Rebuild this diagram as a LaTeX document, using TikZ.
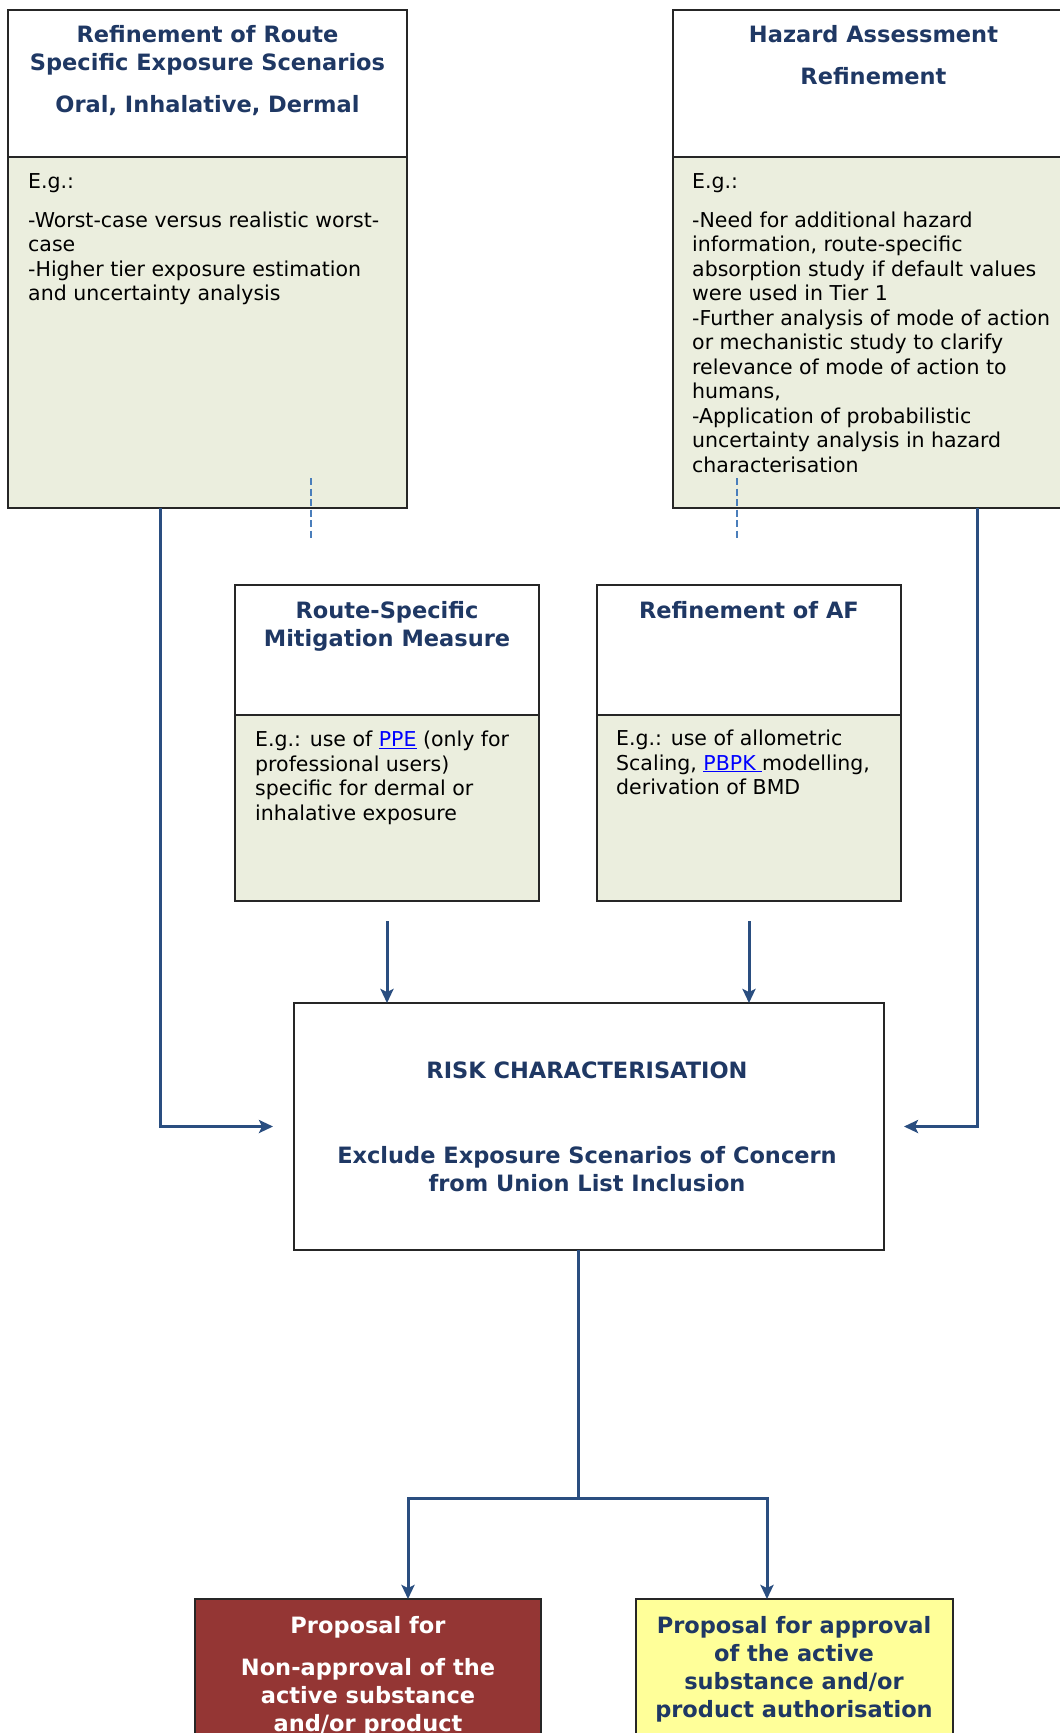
\documentclass[tikz,border=0pt]{standalone}
\usepackage{fontspec}
\setmainfont{DejaVu Sans}
\usetikzlibrary{arrows.meta,calc}
\definecolor{navy}{HTML}{1F3864}
\definecolor{arrowblue}{HTML}{2A4E80}
\definecolor{dashblue}{HTML}{4A7EBB}
\definecolor{bodygreen}{HTML}{EBEEDE}
\definecolor{redbox}{HTML}{943634}
\definecolor{yellowbox}{HTML}{FFFF99}
\definecolor{linkblue}{HTML}{0000FF}
\begin{document}
\begin{tikzpicture}[x=1pt,y=-1pt,
  box/.style={draw=black!85,line width=1.6pt,anchor=north west,inner sep=0pt,outer sep=0pt},
  hd/.style={font=\bfseries\fontsize{22.5}{28}\selectfont,text=navy,align=center,inner sep=0pt,anchor=north},
  bd/.style={font=\fontsize{20.5}{24.5}\selectfont,align=left,inner sep=0pt,anchor=north west},
  conn/.style={draw=arrowblue,line width=3pt,line join=miter},
  arr/.style={conn,-{Stealth[length=14pt,width=13pt,inset=3pt]}},
  dashline/.style={draw=dashblue,line width=2.5pt,dash pattern=on 7pt off 3.5pt}]
\useasboundingbox (0,0) rectangle (1060,1733);
\clip (0,0) rectangle (1060,1733);
\fill[white] (0,0) rectangle (1060,1733);

% top boxes
\node[box,fill=white,minimum width=399,minimum height=147] (b1h) at (8,10) {};
\node[box,fill=bodygreen,minimum width=399,minimum height=351] (b1b) at (8,157) {};
\node[box,fill=white,minimum width=401,minimum height=147] (b2h) at (673,10) {};
\node[box,fill=bodygreen,minimum width=401,minimum height=351] (b2b) at (673,157) {};

% middle boxes
\node[box,fill=white,minimum width=304,minimum height=130] (b3h) at (235,585) {};
\node[box,fill=bodygreen,minimum width=304,minimum height=186] (b3b) at (235,715) {};
\node[box,fill=white,minimum width=304,minimum height=130] (b4h) at (597,585) {};
\node[box,fill=bodygreen,minimum width=304,minimum height=186] (b4b) at (597,715) {};

% risk characterisation
\node[box,fill=white,minimum width=590,minimum height=247] (rc) at (294,1003) {};

% outcome boxes
\node[box,fill=redbox,minimum width=346,minimum height=180] (red) at (195,1599) {};
\node[box,fill=yellowbox,minimum width=317,minimum height=180] (yel) at (636,1599) {};

% texts
\node[hd] (t1h) at (207.5,25.5) {Refinement of Route\\Specific Exposure Scenarios\\[14pt]Oral, Inhalative, Dermal};
\node[bd] (t1b) at (28,173) {E.g.:\\[14.5pt]-Worst-case versus realistic worst-\\case\\-Higher tier exposure estimation\\and uncertainty analysis};
\node[hd] (t2h) at (873.5,25.5) {Hazard Assessment\\[14pt]Refinement};
\node[bd] (t2b) at (692,173) {E.g.:\\[14.5pt]-Need for additional hazard\\information, route-specific\\absorption study if default values\\were used in Tier 1\\-Further analysis of mode of action\\or mechanistic study to clarify\\relevance of mode of action to\\humans,\\-Application of probabilistic\\uncertainty analysis in hazard\\characterisation};
\node[hd] (t3h) at (387,601.5) {Route-Specific\\Mitigation Measure};
\node[bd] (t3b) at (255,731) {E.g.: use of \textcolor{linkblue}{\underline{PPE}} (only for\\professional users)\\specific for dermal or\\inhalative exposure};
\node[hd] (t4h) at (749,601.5) {Refinement of AF};
\node[bd] (t4b) at (616,730) {E.g.: use of allometric\\Scaling, \textcolor{linkblue}{\underline{PBPK\ }}modelling,\\derivation of BMD};
\node[hd] (trc) at (587,1061.5) {RISK CHARACTERISATION\\[57pt]Exclude Exposure Scenarios of Concern\\from Union List Inclusion};
\node[hd,text=white] (tred) at (368,1616.5) {Proposal for\\[14pt]Non-approval of the\\active substance\\and/or product};
\node[hd] (tyel) at (794,1616.5) {Proposal for approval\\of the active\\substance and/or\\product authorisation};

% dashed stubs
\draw[dashline] ($(b1b.south west)+(303,-30)$) coordinate (d1a) -- ++(0,62) coordinate (d1b);
\draw[dashline] ($(b2b.south west)+(64,-30)$) coordinate (d2a) -- ++(0,62) coordinate (d2b);

% connectors
\draw[arr] ($(b1b.south west)+(152,0)$) |- ($(rc.west)+(-21,0)$);
\draw[arr] ($(b2b.south west)+(304,0)$) |- ($(rc.east)+(20,0)$);
\draw[arr] ($(b3b.south)+(0,20)$) -- (b3b.south |- rc.north);
\draw[arr] ($(b4b.south)+(0,20)$) -- (b4b.south |- rc.north);
\draw[conn] ($(rc.south)+(-11,0)$) -- ++(0,248) coordinate (split);
\draw[arr] (split) -| ($(red.north west)+(213,0)$);
\draw[arr] (split) -| ($(yel.north west)+(131,0)$);
\end{tikzpicture}
\end{document}
